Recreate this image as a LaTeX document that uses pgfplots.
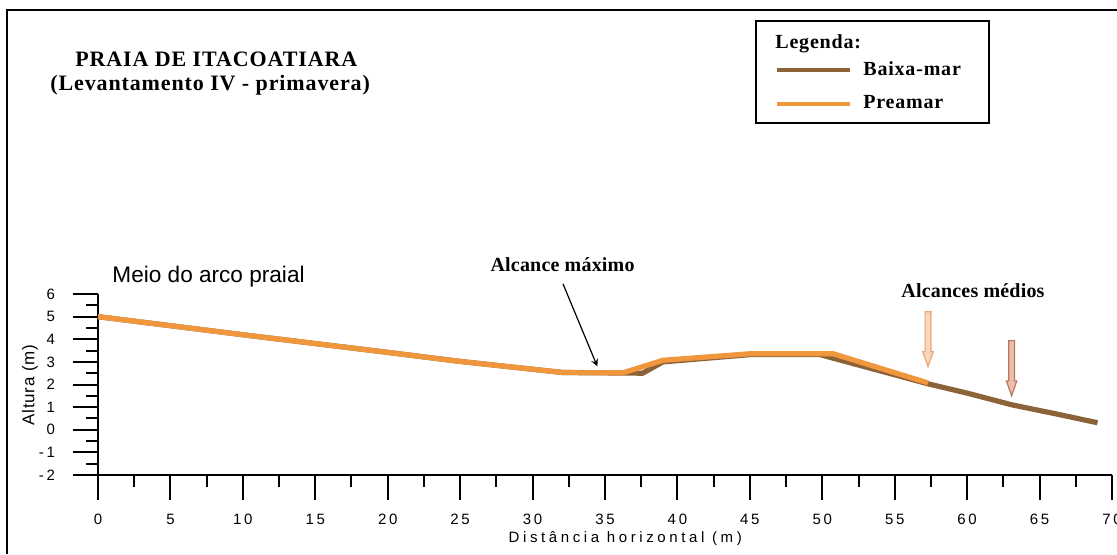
\documentclass[border=0pt]{standalone}
\usepackage{fontspec}
\setmainfont{Liberation Serif}
\setsansfont{Liberation Sans}
\newfontfamily\tickfont{Liberation Sans}[LetterSpace=18]
\newfontfamily\xlabfont{Liberation Sans}[LetterSpace=24]
\newfontfamily\labfont{Liberation Sans}[LetterSpace=4]
\newfontfamily\titfont{Liberation Serif}[LetterSpace=4]
\newfontfamily\legfont{Liberation Serif}[LetterSpace=4]
\newfontfamily\annfont{Liberation Serif}[LetterSpace=1]
\usepackage{pgfplots}
\pgfplotsset{compat=1.18}
\definecolor{preamar}{RGB}{240,150,60}
\definecolor{baixa}{RGB}{140,98,57}
\definecolor{arrAfill}{RGB}{250,214,186}
\definecolor{arrAdraw}{RGB}{233,168,120}
\definecolor{arrBfill}{RGB}{236,190,172}
\definecolor{arrBdraw}{RGB}{184,118,94}

\pgfplotstableread{
x y
0 5.0
10 4.2
20 3.42
25 3.02
32.1 2.53
37.6 2.50
39 3.0
45 3.32
49.85 3.32
57.3 2.03
60 1.62
63.1 1.10
66 0.72
69 0.31
}\baixamar

\pgfplotstableread{
x y
0 5.0
10 4.2
20 3.42
25 3.02
32.1 2.53
36.25 2.52
39 3.07
45 3.36
50.75 3.36
57.3 2.07
}\preamar

\begin{document}
\begin{tikzpicture}
\begin{axis}[
  at={(0,0)}, anchor=south west,
  scale only axis, width=507pt, height=90.5pt,
  xmin=0, xmax=70, ymin=-2, ymax=6,
  axis x line=bottom, axis y line=left,
  axis line style={-, line width=1pt, black},
  xtick={0,5,...,70}, ytick={-2,-1,...,6},
  minor x tick num=1, minor y tick num=1,
  tick align=outside,
  major tick length=12.5pt, minor tick length=6pt,
  every tick/.style={black, line width=1pt},
  clip=false,
  /pgf/number format/assume math mode=true,
  tick label style={font=\tickfont\fontsize{7.5}{9}\selectfont},
  xticklabel style={yshift=-3.5pt},
  yticklabel style={anchor=east, xshift=-5.5pt},
  xlabel={Distância horizontal (m)},
  ylabel={Altura (m)},
  xlabel style={at={(axis description cs:0.52,-0.35)}, anchor=center, font=\xlabfont\fontsize{7.5}{9}\selectfont},
  ylabel style={at={(axis description cs:-0.067,0.497)}, anchor=center, font=\labfont\fontsize{8.5}{10}\selectfont},
]
\addplot[baixa, line width=2.6pt, line join=round] table[x=x,y=y] {\baixamar};
\addplot[preamar, line width=2.6pt, line join=round] table[x=x,y=y] {\preamar};

% annotations
\node[anchor=base west, font=\sffamily\fontsize{11.3}{13}\selectfont, inner sep=0pt] at (axis cs:0.97,6.5) {Meio do arco praial};
\node[anchor=base, font=\annfont\bfseries\fontsize{10}{12}\selectfont, inner sep=0pt] at (axis cs:32.07,7.0) {Alcance máximo};
\draw[black, line width=0.6pt, -stealth] (axis cs:32.1,6.45) -- (axis cs:34.47,2.8);
\node[anchor=base, font=\annfont\bfseries\fontsize{10}{12}\selectfont, inner sep=0pt] at (axis cs:60.4,5.84) {Alcances médios};
\draw[arrAdraw, fill=arrAfill, line width=0.6pt]
  (axis cs:57.10,5.22) -- (axis cs:57.50,5.22) -- (axis cs:57.50,3.45) -- (axis cs:57.66,3.45)
  -- (axis cs:57.3,2.79) -- (axis cs:56.94,3.45) -- (axis cs:57.10,3.45) -- cycle;
\draw[arrBdraw, fill=arrBfill, line width=0.6pt]
  (axis cs:62.87,3.94) -- (axis cs:63.27,3.94) -- (axis cs:63.27,2.16) -- (axis cs:63.43,2.16)
  -- (axis cs:63.07,1.50) -- (axis cs:62.71,2.16) -- (axis cs:62.87,2.16) -- cycle;
\end{axis}

% titles (picture coordinates: 1 px = 0.5pt, axis lower-left = pixel (98,475))
\node[anchor=base west, inner sep=0pt, font=\titfont\bfseries\fontsize{11}{13}\selectfont] at (-11.5pt,204.15pt) {PRAIA DE ITACOATIARA};
\node[anchor=base west, inner sep=0pt, font=\titfont\bfseries\fontsize{11}{13}\selectfont] at (-24pt,192.5pt) {(Levantamento IV - primavera)};

% legend
\draw[black, line width=0.7pt] (329pt,176pt) rectangle (445.5pt,227pt);
\node[anchor=base west, inner sep=0pt, font=\legfont\bfseries\fontsize{10}{12}\selectfont] at (338.5pt,213.35pt) {Legenda:};
\draw[baixa, line width=2.2pt] (339.5pt,202.5pt) -- (376pt,202.5pt);
\node[anchor=base west, inner sep=0pt, font=\legfont\bfseries\fontsize{10}{12}\selectfont] at (382.5pt,200pt) {Baixa-mar};
\draw[preamar, line width=2.2pt] (339.5pt,185.5pt) -- (376pt,185.5pt);
\node[anchor=base west, inner sep=0pt, font=\legfont\bfseries\fontsize{10}{12}\selectfont] at (382.5pt,183.5pt) {Preamar};

% outer frame
\draw[black, line width=1pt] (-45.5pt,-39.5pt) -- (-45.5pt,232.5pt) -- (509.5pt,232.5pt);

\pgfresetboundingbox
\useasboundingbox (-49pt,-39.5pt) rectangle (509.5pt,237.5pt);
\end{tikzpicture}
\end{document}
